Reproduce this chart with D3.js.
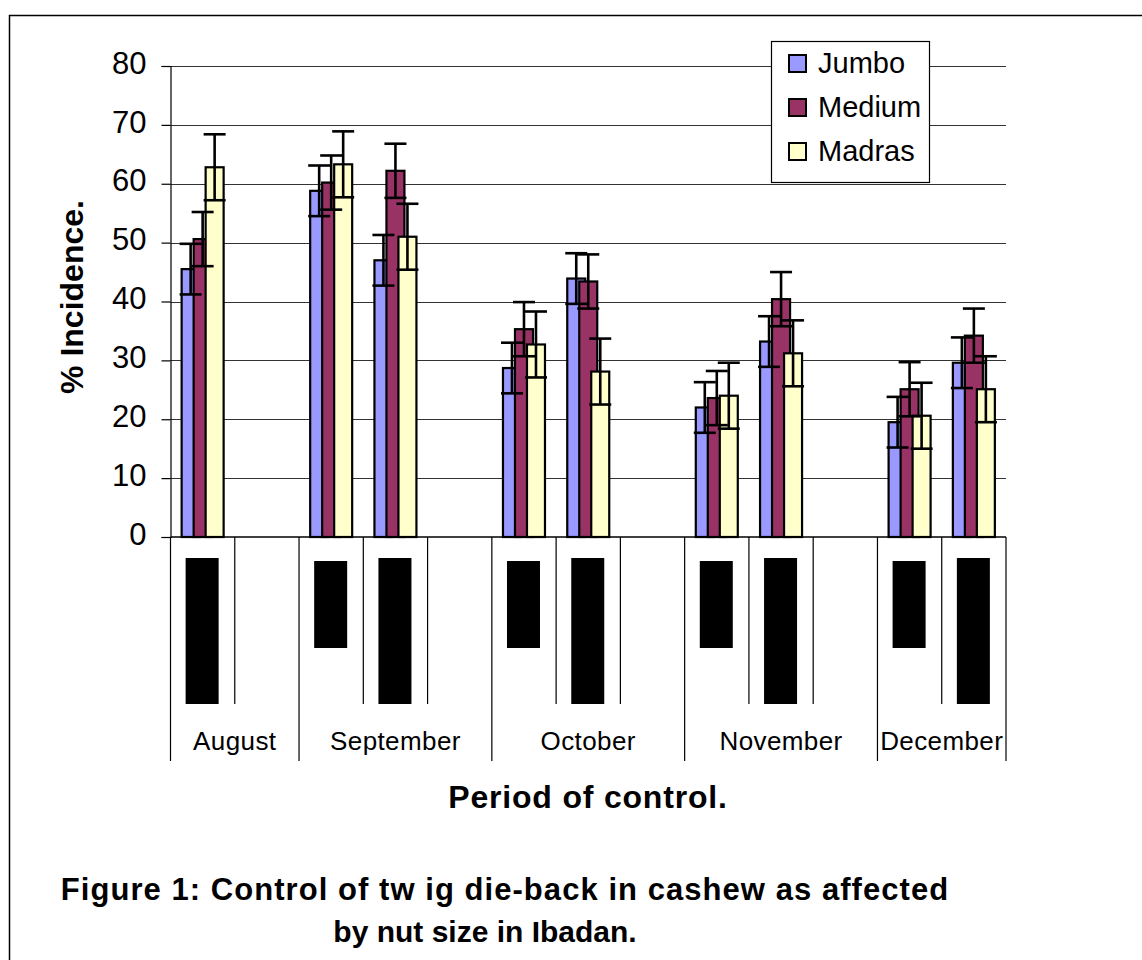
<!DOCTYPE html>
<html>
<head>
<meta charset="utf-8">
<script src="https://cdn.jsdelivr.net/npm/d3@7"></script>
<style>
  body { margin: 0; background: #fff; }
  text { font-family: "Liberation Sans", Arial, sans-serif; fill: #000; }
</style>
</head>
<body>
<div id="chart"></div>
<script>
// series + colours (Excel palette)
var series = ["Jumbo", "Medium", "Madras"];
var colors = ["#9999ff", "#993366", "#ffffcc"];

// 13 category slots along the x axis, grouped by month
var slotMonth = ["August", "August", "September", "September", "September", "October", "October",
  "October", "November", "November", "November", "December", "December"];
// the unreadable sub-labels under each slot (came out as black blocks)
var slotBlock = ["tall", "", "short", "tall", "", "short", "tall", "", "short", "tall", "", "short", "tall"];

// % incidence, null = empty slot
var jumbo  = [45.5, null, 58.8, 47.0, null, 28.7, 43.9, null, 22.0, 33.2, null, 19.5, 29.6];
var medium = [50.6, null, 60.2, 62.2, null, 35.3, 43.4, null, 23.6, 40.4, null, 25.1, 34.2];
var madras = [62.8, null, 63.3, 51.0, null, 32.7, 28.1, null, 24.0, 31.2, null, 20.6, 25.1];
// standard error per series
var errors = [4.3, 4.6, 5.6];

var yTicks = [0, 10, 20, 30, 40, 50, 60, 70, 80];

var svgWidth = 1142;
var svgHeight = 960;

var svg = d3.select("#chart")
  .append("svg")
  .attr("width", svgWidth)
  .attr("height", svgHeight);

// outer frame (runs off the right and bottom edge)
svg.append("rect")
  .attr("x", 9.5).attr("y", 15.5)
  .attr("width", 1200).attr("height", 1000)
  .attr("fill", "none")
  .attr("stroke", "#000")
  .attr("stroke-width", 1.5);

var x = d3.scaleBand()
  .domain(d3.range(slotMonth.length))
  .range([170.5, 1006]);

var y = d3.scaleLinear()
  .domain([0, 80])
  .range([537, 66]);

// offset of each series inside a slot (bars overlap)
var xs = d3.scalePoint()
  .domain(series)
  .range([-12, 12]);
var barW = 18;

// gridlines
svg.append("g")
  .selectAll("line")
  .data(yTicks.slice(1))
  .enter()
  .append("line")
  .attr("x1", 170.5).attr("x2", 1006)
  .attr("y1", d => Math.round(y(d)) + 0.5)
  .attr("y2", d => Math.round(y(d)) + 0.5)
  .attr("stroke", "#333")
  .attr("stroke-width", 1.2);

// y axis
var leftAxis = d3.axisLeft(y)
  .tickValues(yTicks)
  .tickSize(9)
  .tickPadding(15);

var yAxis = svg.append("g")
  .attr("transform", "translate(170.5,0)")
  .call(leftAxis);
yAxis.select(".domain").attr("stroke", "#000").attr("stroke-width", 1.2);
yAxis.selectAll(".tick line").attr("stroke", "#000").attr("stroke-width", 1.2);
yAxis.selectAll(".tick text")
  .attr("font-size", 31)
  .attr("font-family", "Liberation Sans, Arial, sans-serif")
  .attr("dy", "0.23em");

// x axis line
svg.append("line")
  .attr("x1", 170.5).attr("x2", 1006)
  .attr("y1", 537).attr("y2", 537)
  .attr("stroke", "#000")
  .attr("stroke-width", 1.5);

// bars
var values = [jumbo, medium, madras];
var barData = [];
series.forEach(function(s, si) {
  values[si].forEach(function(v, i) {
    if (v !== null) barData.push({ s: s, si: si, i: i, v: v, e: errors[si] });
  });
});

svg.append("g")
  .selectAll("rect")
  .data(barData)
  .enter()
  .append("rect")
  .attr("x", d => x(d.i) + x.bandwidth() / 2 + xs(d.s) - barW / 2)
  .attr("y", d => y(d.v))
  .attr("width", barW)
  .attr("height", d => y(0) - y(d.v))
  .attr("fill", d => colors[d.si])
  .attr("stroke", "#000")
  .attr("stroke-width", 2.2);

// error bars drawn on top
var errG = svg.append("g")
  .attr("stroke", "#000")
  .attr("stroke-width", 2.6);
barData.forEach(function(d) {
  var cx = x(d.i) + x.bandwidth() / 2 + xs(d.s);
  errG.append("line")
    .attr("x1", cx).attr("x2", cx)
    .attr("y1", y(d.v + d.e)).attr("y2", y(d.v - d.e));
  [d.v + d.e, d.v - d.e].forEach(function(t) {
    errG.append("line")
      .attr("x1", cx - 11).attr("x2", cx + 11)
      .attr("y1", y(t)).attr("y2", y(t));
  });
});

// category separators
var nSlots = slotMonth.length;
var sep = svg.append("g").attr("stroke", "#000").attr("stroke-width", 1.2);
for (var b = 0; b <= nSlots; b++) {
  var bx = b < nSlots ? x(b) : x(nSlots - 1) + x.bandwidth();
  var monthEdge = b === 0 || b === nSlots || slotMonth[b] !== slotMonth[b - 1];
  sep.append("line")
    .attr("x1", bx).attr("x2", bx)
    .attr("y1", 537).attr("y2", monthEdge ? 761 : 704);
}

// sub labels (black blocks)
svg.append("g")
  .selectAll("rect")
  .data(slotBlock.map((k, i) => ({ k: k, i: i })).filter(d => d.k !== ""))
  .enter()
  .append("rect")
  .attr("x", d => x(d.i) + x.bandwidth() / 2 - 17)
  .attr("y", d => d.k === "tall" ? 558 : 561)
  .attr("width", 33)
  .attr("height", d => d.k === "tall" ? 146 : 87)
  .attr("fill", "#000");

// month labels
var months = Array.from(new Set(slotMonth));
months.forEach(function(m) {
  var first = slotMonth.indexOf(m);
  var last = slotMonth.lastIndexOf(m);
  var mx = (x(first) + x(last) + x.bandwidth()) / 2;
  svg.append("text")
    .attr("x", mx)
    .attr("y", 750)
    .attr("text-anchor", "middle")
    .attr("font-size", 26)
    .attr("letter-spacing", 0.4)
    .text(m);
});

// legend
var legend = svg.append("g");
legend.append("rect")
  .attr("x", 771.5).attr("y", 41.5)
  .attr("width", 158).attr("height", 141)
  .attr("fill", "#fff")
  .attr("stroke", "#000")
  .attr("stroke-width", 1.2);
series.forEach(function(s, si) {
  var ly = 63 + si * 44;
  legend.append("rect")
    .attr("x", 789).attr("y", ly - 8)
    .attr("width", 17).attr("height", 17)
    .attr("fill", colors[si])
    .attr("stroke", "#000")
    .attr("stroke-width", 2);
  legend.append("text")
    .attr("x", 818)
    .attr("y", ly + 10)
    .attr("font-size", 29)
    .text(s);
});

// axis titles
svg.append("text")
  .attr("x", 588)
  .attr("y", 808)
  .attr("text-anchor", "middle")
  .attr("font-size", 32)
  .attr("font-weight", "bold")
  .attr("letter-spacing", 0.8)
  .text("Period of control.");

svg.append("text")
  .attr("transform", "translate(83,297) rotate(-90)")
  .attr("text-anchor", "middle")
  .attr("font-size", 32)
  .attr("font-weight", "bold")
  .text("% Incidence.");

// caption
svg.append("text")
  .attr("x", 505)
  .attr("y", 900)
  .attr("text-anchor", "middle")
  .attr("font-size", 31)
  .attr("font-weight", "bold")
  .attr("letter-spacing", 1.05)
  .text("Figure 1: Control of tw ig die-back in cashew as affected");

svg.append("text")
  .attr("x", 485)
  .attr("y", 942)
  .attr("text-anchor", "middle")
  .attr("font-size", 30)
  .attr("font-weight", "bold")
  .text("by nut size in Ibadan.");
</script>
</body>
</html>
